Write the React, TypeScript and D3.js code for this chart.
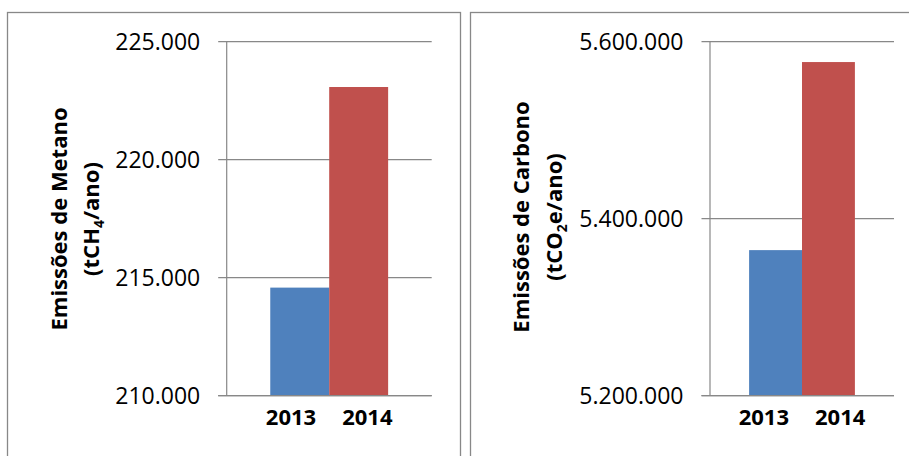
import React from "react";
import * as d3 from "d3";

const years = ["2013", "2014"];
const metanoValues = [214580, 223080];
const metanoTicks = [210000, 215000, 220000, 225000];
const carbonoValues = [5364500, 5577000];
const carbonoTicks = [5200000, 5400000, 5600000];
const colors = ["#4F81BD", "#C0504D"];

const fmt = (v: number) => d3.format(",")(v).replace(/,/g, ".");

const FONT = "'Open Sans', 'Noto Sans', sans-serif";
const GRID = "#888888";

type PanelProps = {
  values: number[];
  ticks: number[];
  line1: string;
  line2pre: string;
  sub: string;
  line2post: string;
  box: { x0: number; x1: number };
  plot: { left: number; right: number; top: number; bottom: number };
  labelX: [number, number];
  labelY: number;
};

function Panel(p: PanelProps) {
  const { plot } = p;
  const y = d3
    .scaleLinear()
    .domain([p.ticks[0], p.ticks[p.ticks.length - 1]])
    .range([plot.bottom, plot.top]);
  const pw = plot.right - plot.left;
  const cx = (plot.left + plot.right) / 2;
  const gw = pw * 0.575;
  const x = d3.scaleBand().domain(years).range([cx - gw / 2, cx + gw / 2]).padding(0);
  return (
    <g>
      <rect
        x={p.box.x0}
        y={12.5}
        width={p.box.x1 - p.box.x0}
        height={460}
        fill="white"
        stroke={GRID}
        strokeWidth={1.3}
      />
      {p.ticks.map((t) => (
        <g key={t}>
          <line x1={plot.left - 8.5} x2={plot.right} y1={y(t)} y2={y(t)} stroke={GRID} strokeWidth={1.2} />
          <text
            x={plot.left - 26.5}
            y={y(t) + 8.3}
            textAnchor="end"
            fontFamily={FONT}
            fontSize={23}
            fill="#000"
          >
            {fmt(t)}
          </text>
        </g>
      ))}
      <line x1={plot.left} x2={plot.left} y1={plot.top} y2={plot.bottom} stroke={GRID} strokeWidth={1.2} />
      {years.map((yr, i) => (
        <rect
          key={yr}
          x={x(yr)}
          width={x.bandwidth()}
          y={y(p.values[i])}
          height={plot.bottom - y(p.values[i])}
          fill={colors[i]}
        />
      ))}
      <line x1={plot.left - 8.5} x2={plot.right} y1={plot.bottom} y2={plot.bottom} stroke={GRID} strokeWidth={1.2} />
      <text x={cx - 13} y={plot.bottom + 29.5} textAnchor="end" fontFamily={FONT} fontWeight="bold" fontSize={22}>
        {years[0]}
      </text>
      <text x={cx + 13} y={plot.bottom + 29.5} textAnchor="start" fontFamily={FONT} fontWeight="bold" fontSize={22}>
        {years[1]}
      </text>
      <text
        transform={`translate(${p.labelX[0]},${p.labelY}) rotate(-90)`}
        textAnchor="middle"
        fontFamily={FONT}
        fontWeight="bold"
        fontSize={22}
      >
        {p.line1}
      </text>
      <text
        transform={`translate(${p.labelX[1]},${p.labelY}) rotate(-90)`}
        textAnchor="middle"
        fontFamily={FONT}
        fontWeight="bold"
        fontSize={22}
      >
        {p.line2pre}
        <tspan fontSize={14} dy={5}>
          {p.sub}
        </tspan>
        <tspan dy={-5}>{p.line2post}</tspan>
      </text>
    </g>
  );
}

export default function App() {
  return (
    <svg
      width={909}
      height={456}
      style={{ position: "absolute", left: 0, top: 0, background: "white" }}
    >
      <rect x={0} y={0} width={909} height={456} fill="white" />
      <Panel
        values={metanoValues}
        ticks={metanoTicks}
        line1="Emissões de Metano"
        line2pre="(tCH"
        sub="4"
        line2post="/ano)"
        box={{ x0: 7.5, x1: 460.5 }}
        plot={{ left: 226.7, right: 431.7, top: 41.7, bottom: 395.7 }}
        labelX={[67, 99]}
        labelY={219}
      />
      <Panel
        values={carbonoValues}
        ticks={carbonoTicks}
        line1="Emissões de Carbono"
        line2pre="(tCO"
        sub="2"
        line2post="e/ano)"
        box={{ x0: 470.5, x1: 920 }}
        plot={{ left: 710, right: 894, top: 41.7, bottom: 395.7 }}
        labelX={[529, 562]}
        labelY={217}
      />
    </svg>
  );
}
